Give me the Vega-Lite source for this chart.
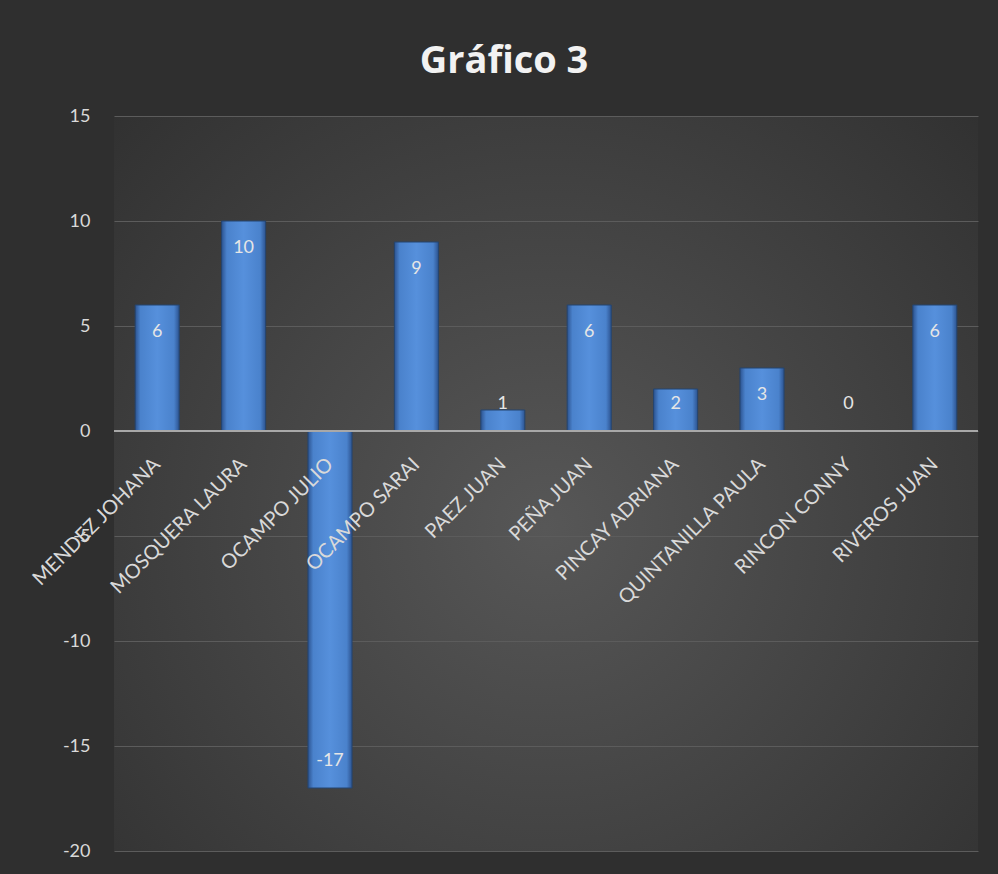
{
  "$schema": "https://vega.github.io/schema/vega-lite/v6.json",
  "width": 864,
  "height": 735,
  "autosize": "none",
  "padding": {"left": 114, "top": 116, "right": 20, "bottom": 23},
  "background": "#2f2f2f",
  "title": {
    "text": "Gráfico 3",
    "font": "Open Sans",
    "fontSize": 38,
    "fontWeight": "bold",
    "color": "#f2f2f2",
    "anchor": "middle",
    "dx": -42,
    "offset": 26
  },
  "config": {
    "view": {
      "stroke": null,
      "fill": {
        "gradient": "radial",
        "x1": 0.5, "y1": 0.55, "r1": 0,
        "x2": 0.5, "y2": 0.55, "r2": 0.75,
        "stops": [
          {"offset": 0, "color": "#575757"},
          {"offset": 1, "color": "#2e2e2e"}
        ]
      }
    },
    "font": "Lato"
  },
  "data": {
    "values": [
      {"name": "MENDEZ JOHANA", "value": 6},
      {"name": "MOSQUERA LAURA", "value": 10},
      {"name": "OCAMPO JULIO", "value": -17},
      {"name": "OCAMPO SARAI", "value": 9},
      {"name": "PAEZ JUAN", "value": 1},
      {"name": "PEÑA JUAN", "value": 6},
      {"name": "PINCAY ADRIANA", "value": 2},
      {"name": "QUINTANILLA PAULA", "value": 3},
      {"name": "RINCON CONNY", "value": 0},
      {"name": "RIVEROS JUAN", "value": 6}
    ]
  },
  "transform": [
    {"calculate": "datum.value >= 0 ? max(datum.value - 1.29, 1.29) : datum.value + 1.29", "as": "labelPos"},
    {"calculate": "toString(datum.value)", "as": "labelText"}
  ],
  "encoding": {
    "x": {
      "field": "name",
      "type": "nominal",
      "sort": null,
      "scale": {"paddingInner": 0.49, "paddingOuter": 0.245},
      "axis": {
        "title": null,
        "offset": -420,
        "zindex": 2,
        "domain": false,
        "ticks": false,
        "labelAngle": -45,
        "labelAlign": "right",
        "labelBaseline": "middle",
        "labelPadding": 30,
        "labelFontSize": 20,
        "labelColor": "#d9d9d9",
        "labelFont": "Lato",
        "labelLimit": 300
      }
    }
  },
  "layer": [
    {
      "mark": {
        "type": "bar",
        "fill": {
          "gradient": "linear",
          "x1": 0, "y1": 0, "x2": 1, "y2": 0,
          "stops": [
            {"offset": 0, "color": "#2c5390"},
            {"offset": 0.12, "color": "#4a82cc"},
            {"offset": 0.5, "color": "#5690dc"},
            {"offset": 0.88, "color": "#4a82cc"},
            {"offset": 1, "color": "#2c5390"}
          ]
        },
        "stroke": "#25456f",
        "strokeWidth": 1
      },
      "encoding": {
        "y": {
          "field": "value",
          "type": "quantitative",
          "scale": {"domain": [-20, 15], "nice": false},
          "axis": {
            "title": null,
            "values": [-20, -15, -10, -5, 0, 5, 10, 15],
            "labelExpr": "toString(datum.value)",
            "domain": false,
            "ticks": false,
            "labelPadding": 24,
            "labelFontSize": 18,
            "labelColor": "#d9d9d9",
            "labelFont": "Lato",
            "grid": true,
            "gridColor": "#5c5c5c",
            "gridWidth": 1.2
          }
        }
      }
    },
    {
      "mark": {"type": "rule", "color": "#a8a8a8", "strokeWidth": 2},
      "encoding": {"y": {"datum": 0, "type": "quantitative"}, "x": {}}
    },
    {
      "mark": {"type": "text", "fontSize": 18, "color": "#e6e6e6", "baseline": "middle", "font": "Lato"},
      "encoding": {
        "y": {"field": "labelPos", "type": "quantitative"},
        "text": {"field": "labelText", "type": "nominal"}
      }
    }
  ]
}
